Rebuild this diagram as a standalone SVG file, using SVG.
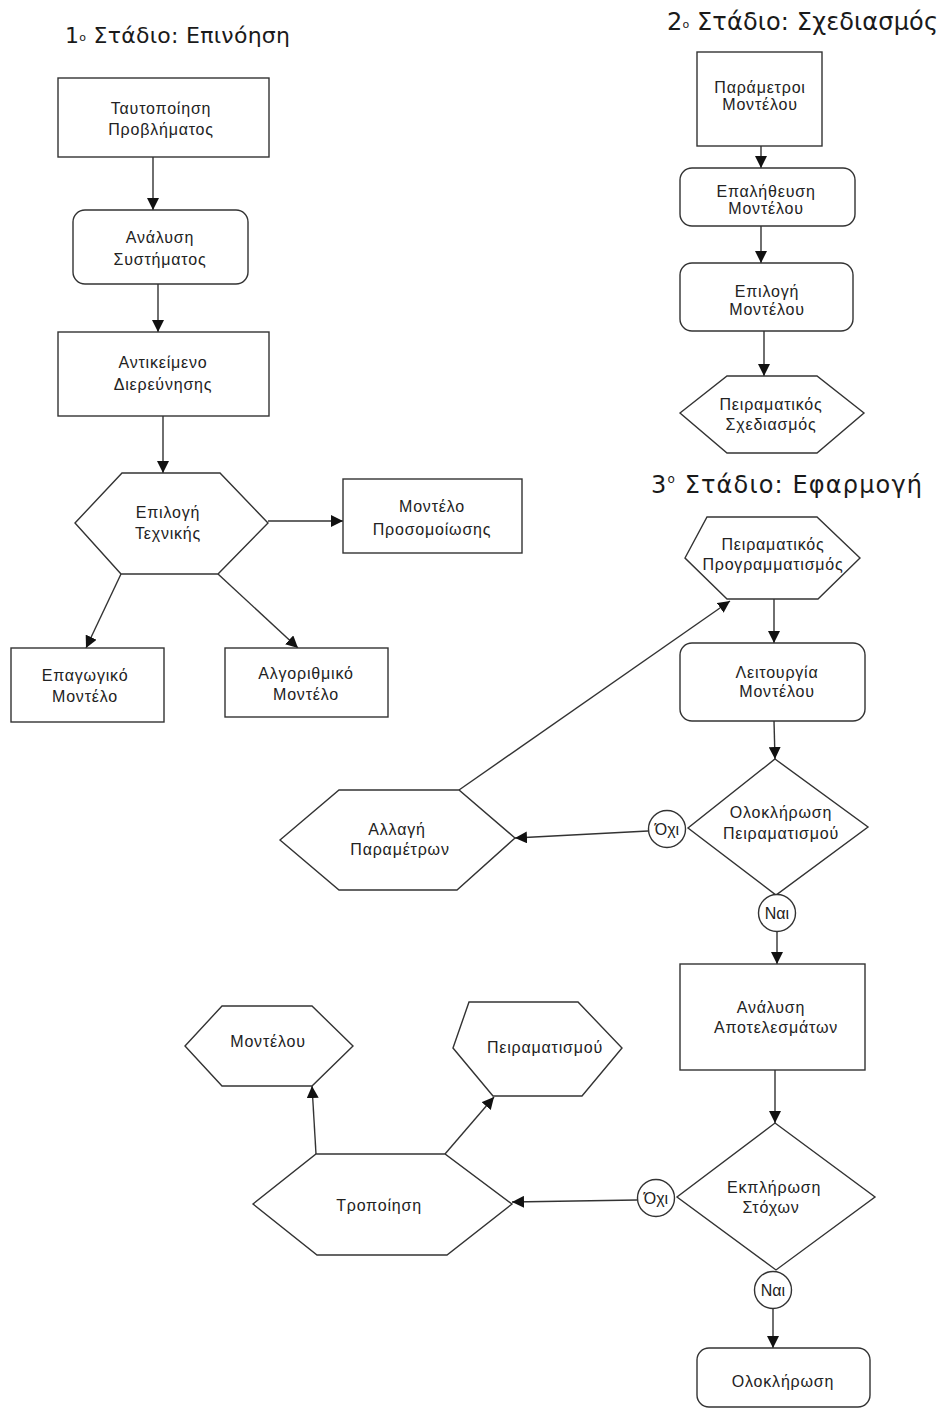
<svg xmlns="http://www.w3.org/2000/svg" width="942" height="1410" viewBox="0 0 942 1410">
<style>
.box{fill:#fff;stroke:#333;stroke-width:1.4}
.t{font-family:"Liberation Sans",Arial,sans-serif;font-size:16px;fill:#222;text-anchor:middle;letter-spacing:0.8px}
.s{font-family:"Liberation Sans",Arial,sans-serif;font-size:16px;fill:#222;text-anchor:middle}
.title{font-family:"DejaVu Sans","Liberation Sans",sans-serif;fill:#1a1a1a}
.c{stroke:#333;stroke-width:1.4;fill:none;marker-end:url(#ah)}
</style>
<defs>
<marker id="ah" viewBox="0 0 10 10" refX="10" refY="5" markerWidth="12" markerHeight="12" markerUnits="userSpaceOnUse" orient="auto">
<path d="M0,0 L10,5 L0,10 z" fill="#111"/>
</marker>
</defs>
<rect width="942" height="1410" fill="#fff"/>

<g id="titles">
<text class="title" x="65" y="43" font-size="22" textLength="225" lengthAdjust="spacing">1<tspan font-size="11" dy="-2">ο</tspan><tspan dy="2"> Στάδιο: Επινόηση</tspan></text>
<text class="title" x="667" y="30" font-size="24" textLength="271" lengthAdjust="spacing">2<tspan font-size="11" dy="-2">ο</tspan><tspan dy="2"> Στάδιο: Σχεδιασμός</tspan></text>
<text class="title" x="651" y="493" font-size="24" textLength="271" lengthAdjust="spacing">3<tspan font-size="12" dy="-10">ο</tspan><tspan dy="10"> Στάδιο: Εφαρμογή</tspan></text>
</g>

<g id="connectors">
<line class="c" x1="153" y1="157" x2="153" y2="210"/>
<line class="c" x1="158" y1="284" x2="158" y2="332"/>
<line class="c" x1="163" y1="416" x2="163" y2="473"/>
<line class="c" x1="268" y1="521" x2="343" y2="521"/>
<line class="c" x1="121" y1="574" x2="86" y2="648"/>
<line class="c" x1="218" y1="574" x2="298" y2="648"/>
<line class="c" x1="761" y1="146" x2="761" y2="168"/>
<line class="c" x1="761" y1="226" x2="761" y2="263"/>
<line class="c" x1="764" y1="331" x2="764" y2="376"/>
<line class="c" x1="459" y1="790" x2="730" y2="601"/>
<line class="c" x1="774" y1="599" x2="774" y2="643"/>
<line class="c" x1="774" y1="721" x2="775" y2="759"/>
<line class="c" x1="648" y1="831" x2="515" y2="838"/>
<line class="c" x1="777" y1="931" x2="777" y2="964"/>
<line class="c" x1="775" y1="1070" x2="775" y2="1123"/>
<line class="c" x1="637" y1="1200" x2="512" y2="1202"/>
<line class="c" x1="773" y1="1308" x2="773" y2="1348"/>
<line class="c" x1="316" y1="1154" x2="312" y2="1086"/>
<line class="c" x1="445" y1="1154" x2="494" y2="1097"/>
</g>

<g id="n-taftopoiisi">
<rect class="box" x="58" y="78" width="211" height="79"/>
<text class="t" x="161" y="114">Ταυτοποίηση</text>
<text class="t" x="161" y="135">Προβλήματος</text>
</g>
<g id="n-analysi-systimatos">
<rect class="box" x="73" y="210" width="175" height="74" rx="12"/>
<text class="t" x="160" y="243">Ανάλυση</text>
<text class="t" x="160" y="265">Συστήματος</text>
</g>
<g id="n-antikeimeno">
<rect class="box" x="58" y="332" width="211" height="84"/>
<text class="t" x="163" y="368">Αντικείμενο</text>
<text class="t" x="163" y="390">Διερεύνησης</text>
</g>
<g id="n-epilogi-texnikis">
<polygon class="box" points="75,523 122,473 220,473 268,523 218,574 121,574"/>
<text class="t" x="168" y="518">Επιλογή</text>
<text class="t" x="168" y="539">Τεχνικής</text>
</g>
<g id="n-montelo-prosomoiosis">
<rect class="box" x="343" y="479" width="179" height="74"/>
<text class="t" x="432" y="512" letter-spacing="1.6">Μοντέλο</text>
<text class="t" x="432" y="535" letter-spacing="1.6">Προσομοίωσης</text>
</g>
<g id="n-epagogiko">
<rect class="box" x="11" y="648" width="153" height="74"/>
<text class="t" x="85" y="681">Επαγωγικό</text>
<text class="t" x="85" y="702">Μοντέλο</text>
</g>
<g id="n-algorithmiko">
<rect class="box" x="225" y="648" width="163" height="69"/>
<text class="t" x="306" y="679">Αλγοριθμικό</text>
<text class="t" x="306" y="700">Μοντέλο</text>
</g>

<g id="n-parametroi">
<rect class="box" x="697" y="52" width="125" height="94"/>
<text class="t" x="760" y="93">Παράμετροι</text>
<text class="t" x="760" y="110">Μοντέλου</text>
</g>
<g id="n-epalitheysi">
<rect class="box" x="680" y="168" width="175" height="58" rx="12"/>
<text class="t" x="766" y="197">Επαλήθευση</text>
<text class="t" x="766" y="214">Μοντέλου</text>
</g>
<g id="n-epilogi-montelou">
<rect class="box" x="680" y="263" width="173" height="68" rx="12"/>
<text class="t" x="767" y="297">Επιλογή</text>
<text class="t" x="767" y="315">Μοντέλου</text>
</g>
<g id="n-peiramatikos-sxediasmos">
<polygon class="box" points="680,413 727,376 817,376 864,413 817,453 727,453"/>
<text class="t" x="771" y="410">Πειραματικός</text>
<text class="t" x="771" y="430">Σχεδιασμός</text>
</g>

<g id="n-peiramatikos-programmatismos">
<polygon class="box" points="685,558 707,517 817,517 860,558 818,599 727,599"/>
<text class="t" x="773" y="550">Πειραματικός</text>
<text class="t" x="773" y="570">Προγραμματισμός</text>
</g>
<g id="n-leitourgia">
<rect class="box" x="680" y="643" width="185" height="78" rx="12"/>
<text class="t" x="777" y="678">Λειτουργία</text>
<text class="t" x="777" y="697">Μοντέλου</text>
</g>
<g id="n-oloklirosi-peiramatismou">
<polygon class="box" points="775,759 868,827 776,895 688,828"/>
<text class="t" x="781" y="818">Ολοκλήρωση</text>
<text class="t" x="781" y="839">Πειραματισμού</text>
</g>
<g id="n-oxi-1">
<circle class="box" cx="667" cy="829" r="18.5"/>
<text class="s" x="667" y="835">Όχι</text>
</g>
<g id="n-nai-1">
<circle class="box" cx="777" cy="913" r="18.5"/>
<text class="s" x="777" y="919">Ναι</text>
</g>
<g id="n-allagi-parametron">
<polygon class="box" points="280,840 339,790 459,790 515,838 457,890 339,890"/>
<text class="t" x="397" y="835">Αλλαγή</text>
<text class="t" x="400" y="855">Παραμέτρων</text>
</g>
<g id="n-analysi-apotelesmaton">
<rect class="box" x="680" y="964" width="185" height="106"/>
<text class="t" x="771" y="1013">Ανάλυση</text>
<text class="t" x="776" y="1033">Αποτελεσμάτων</text>
</g>
<g id="n-ekplirosi-stoxon">
<polygon class="box" points="775,1123 875,1197 776,1270 677,1197"/>
<text class="t" x="774" y="1193">Εκπλήρωση</text>
<text class="t" x="771" y="1213">Στόχων</text>
</g>
<g id="n-oxi-2">
<circle class="box" cx="656" cy="1198" r="18.5"/>
<text class="s" x="656" y="1204">Όχι</text>
</g>
<g id="n-nai-2">
<circle class="box" cx="773" cy="1290" r="18.5"/>
<text class="s" x="773" y="1296">Ναι</text>
</g>
<g id="n-oloklirosi">
<rect class="box" x="697" y="1348" width="173" height="59" rx="12"/>
<text class="t" x="783" y="1387">Ολοκλήρωση</text>
</g>
<g id="n-tropopoiisi">
<polygon class="box" points="253,1204 316,1154 445,1154 512,1204 447,1255 317,1255"/>
<text class="t" x="379" y="1211">Τροποίηση</text>
</g>
<g id="n-montelou">
<polygon class="box" points="185,1046 222,1006 312,1006 353,1046 312,1086 222,1086"/>
<text class="t" x="268" y="1047">Μοντέλου</text>
</g>
<g id="n-peiramatismou">
<polygon class="box" points="453,1048 469,1002 578,1002 622,1048 582,1096 493,1096"/>
<text class="t" x="545" y="1053">Πειραματισμού</text>
</g>
</svg>
